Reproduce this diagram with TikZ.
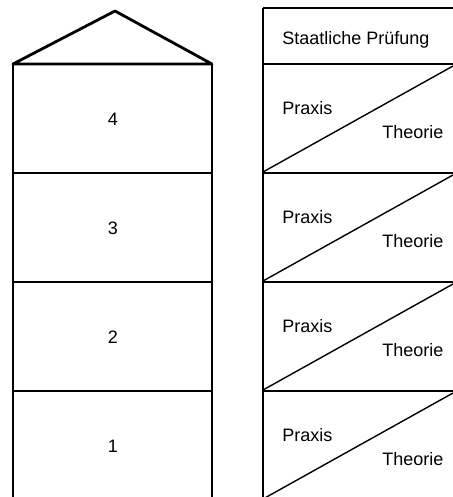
\documentclass[tikz,border=0pt]{standalone}
\usepackage{fontspec}
\setmainfont{Liberation Sans}
\begin{document}
\begin{tikzpicture}[x=0.5pt,y=-0.5pt,line join=round]
  \tikzstyle{wall}=[line width=1pt]
  \tikzstyle{floor}=[line width=1.4pt]
  \tikzstyle{split}=[line width=0.7pt]
  \tikzstyle{lbl}=[font=\fontsize{9}{11}\selectfont,inner sep=0pt]
  \clip (0,0) rectangle (453,497);
  % the house: roof and walls
  \coordinate (eaveL) at (13,64);
  \coordinate (eaveR) at (212,64);
  \coordinate (apex) at (115,11);
  \draw[floor] (eaveL) -- (apex) -- (eaveR) -- cycle;
  \draw[wall] (eaveL) -- (13,510);
  \draw[wall] (eaveR) -- (212,510);
  % exam column on the right
  \coordinate (examL) at (263,8);
  \draw[floor] (examL) -- (460,8);
  \draw[wall] (examL) -- (263,510);
  \node[lbl,anchor=west](exam) at (282,40){Staatliche Prüfung};
  \foreach \n/\t in {4/64,3/173,2/282,1/391}{
    \draw[floor] (13,\t) -- (212,\t);
    \draw[floor] (263,\t) -- (460,\t);
    \node[lbl](floor\n) at (113,\t+55){\n};
    \draw[split] (263,\t+108) -- (453,\t+2);
    \node[lbl,anchor=west](praxis\n) at (282,\t+44){Praxis};
    \node[lbl,anchor=west](theorie\n) at (382,\t+68){Theorie};
  }
\end{tikzpicture}
\end{document}
